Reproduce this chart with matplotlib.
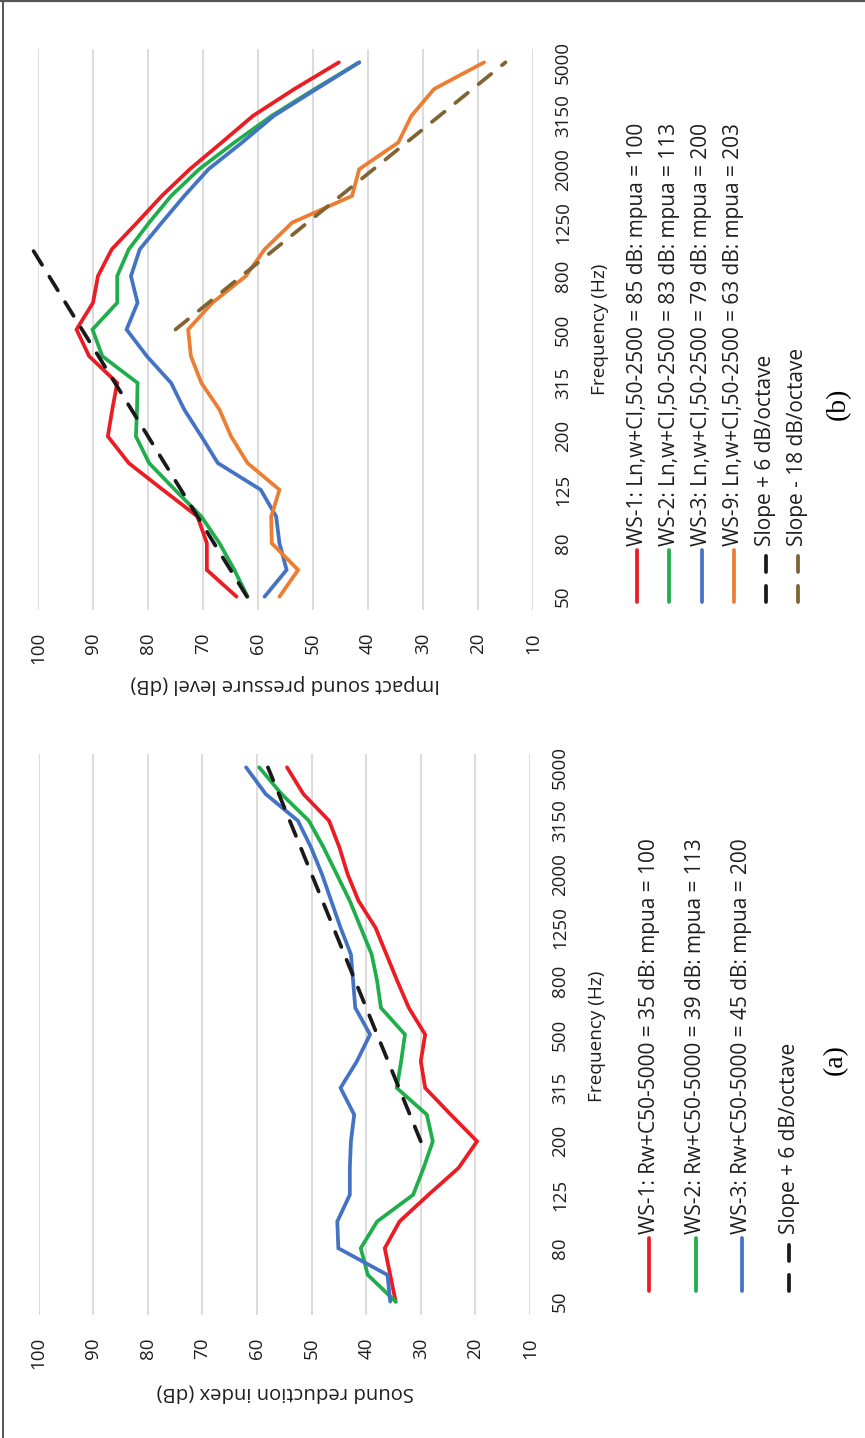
import matplotlib
matplotlib.use("Agg")
import matplotlib.pyplot as plt
from matplotlib.lines import Line2D

# ------------------------------------------------------------------
# data (1/3 octave bands, values in dB)
# ------------------------------------------------------------------
freqs = ["50", "63", "80", "100", "125", "160", "200", "250", "315", "400", "500",
         "630", "800", "1000", "1250", "1600", "2000", "2500", "3150", "4000", "5000"]

# (a) sound reduction index
a_ws1 = [34.6, 35.6, 36.6, 33.9, 28.6, 23.1, 19.7, 24.5, 29.2, 30.0, 29.2,
         32.2, 34.3, 36.3, 38.3, 41.4, 43.4, 44.9, 46.8, 51.5, 54.5]
a_ws2 = [34.6, 39.7, 41.0, 38.0, 31.4, 29.5, 27.8, 28.9, 34.4, 33.6, 32.9,
         37.3, 38.0, 39.0, 41.0, 43.0, 45.4, 47.8, 50.5, 55.5, 59.6]
a_ws3 = [35.6, 36.1, 45.1, 45.3, 43.0, 43.0, 42.8, 42.2, 44.7, 41.7, 39.3,
         42.0, 42.4, 42.8, 44.7, 46.4, 48.1, 50.1, 52.5, 58.4, 62.0]
a_slope_freqs = freqs[6:]
a_slope = [30, 32, 34, 36, 38, 40, 42, 44, 46, 48, 50, 52, 54, 56, 58]

# (b) impact sound pressure level
b_ws1 = [63.9, 69.3, 69.3, 71.0, 77.3, 83.5, 87.3, 86.5, 85.6, 90.7, 93.0,
         90.0, 89.1, 86.6, 82.0, 77.5, 72.4, 66.6, 60.9, 53.4, 45.3]
b_ws2 = [61.9, 64.3, 67.0, 70.3, 75.1, 79.8, 82.2, 82.0, 81.9, 88.3, 90.1,
         85.6, 85.6, 83.5, 79.8, 75.8, 70.7, 64.3, 57.5, 49.7, 41.6]
b_ws3 = [58.8, 54.8, 56.1, 56.7, 59.5, 67.3, 70.3, 73.4, 75.8, 80.2, 83.9,
         81.9, 83.1, 81.5, 77.5, 73.4, 69.0, 62.9, 57.1, 49.4, 41.6]
b_ws9 = [56.1, 52.7, 57.5, 57.6, 56.1, 61.9, 64.9, 67.0, 70.3, 72.2, 72.7,
         68.3, 62.2, 58.8, 53.8, 42.9, 41.6, 34.5, 32.1, 28.0, 18.9]
b_up_freqs = freqs[:14]
b_up = [62, 65, 68, 71, 74, 77, 80, 83, 86, 89, 92, 95, 98, 101]
b_down_freqs = freqs[10:]
b_down = [75, 69, 63, 57, 51, 45, 39, 33, 27, 21, 15]

a_labels = ["WS-1: Rw+C50-5000 = 35 dB: mpua = 100",
            "WS-2: Rw+C50-5000 = 39 dB: mpua = 113",
            "WS-3: Rw+C50-5000 = 45 dB: mpua = 200",
            "Slope + 6 dB/octave"]
b_labels = ["WS-1: Ln,w+CI,50-2500 = 85 dB: mpua = 100",
            "WS-2: Ln,w+CI,50-2500 = 83 dB: mpua = 113",
            "WS-3: Ln,w+CI,50-2500 = 79 dB: mpua = 200",
            "WS-9: Ln,w+CI,50-2500 = 63 dB: mpua = 203",
            "Slope + 6 dB/octave",
            "Slope - 18 dB/octave"]

# ------------------------------------------------------------------
# style
# ------------------------------------------------------------------
RED, GREEN, BLUE, ORANGE = "#EC1C24", "#1FAE4B", "#4472C4", "#ED7D31"
BLACK, OLIVE = "#1A1A1A", "#7F6532"
LW = 2.7
DASH = (0, (4.3, 3.7))
FS_TICK = 13.5
FS_LEG = 15
FS_TITLE = 14.6
FS_FREQ = 13.7
TXT = "#1E1E1E"

plt.rcParams["font.family"] = ["Open Sans", "DejaVu Sans"]

W, H = 865, 1438
fig = plt.figure(figsize=(W / 100, H / 100), dpi=100)


def fx(x):
    return x / W


def fy(y):
    return 1 - y / H


def make_axes(x0, y0, x1, y1):
    # page is turned: value axis runs right->left, frequency bottom->top
    ax = fig.add_axes([fx(x0), fy(y1), fx(x1) - fx(x0), fy(y0) - fy(y1)])
    ax.set_xlim(100, 10)
    ax.set_ylim(-0.5, len(freqs) - 0.5)
    ax.set_xticks(range(10, 101, 10))
    ax.set_xticklabels([str(v) for v in range(10, 101, 10)], rotation=90,
                       fontsize=FS_TICK, color=TXT)
    ax.yaxis.tick_right()
    ax.set_yticks(range(0, len(freqs), 2))
    ax.set_yticklabels(freqs[::2], rotation=90, va="center", fontsize=FS_TICK, color=TXT)
    ax.tick_params(axis="x", length=0, pad=16)
    ax.tick_params(axis="y", length=0, pad=15)
    ax.grid(axis="x", color="#D9D9D9", lw=1.3, zorder=0)
    for s in ax.spines.values():
        s.set_visible(False)
    return ax


def draw(ax, xs_lab, vals, color, dashed=False):
    idx = [freqs.index(f) for f in xs_lab]
    if dashed:
        ax.plot(vals, idx, color=color, lw=LW, linestyle=DASH,
                dash_capstyle="round", clip_on=False, zorder=3)
    else:
        ax.plot(vals, idx, color=color, lw=LW, solid_capstyle="round",
                solid_joinstyle="miter", zorder=3)


def legend(xs, y_top, y_bot, labels, colors, dashed):
    for x, lab, c, d in zip(xs, labels, colors, dashed):
        ln = Line2D([fx(x), fx(x)], [fy(y_bot), fy(y_top)], transform=fig.transFigure,
                    color=c, lw=LW, linestyle=DASH if d else "-",
                    dash_capstyle="round", solid_capstyle="round")
        fig.add_artist(ln)
        fig.text(fx(x), fy(y_top - 4), lab, rotation=90, ha="center", va="bottom",
                 fontsize=FS_LEG, color=TXT)


# (b) upper half
ax_b = make_axes(38, 49, 533, 610)
draw(ax_b, freqs, b_ws1, RED)
draw(ax_b, freqs, b_ws2, GREEN)
draw(ax_b, freqs, b_ws3, BLUE)
draw(ax_b, freqs, b_ws9, ORANGE)
draw(ax_b, b_up_freqs, b_up, BLACK, dashed=True)
draw(ax_b, b_down_freqs, b_down, OLIVE, dashed=True)

# (a) lower half
ax_a = make_axes(38.6, 754, 530, 1315)
draw(ax_a, freqs, a_ws1, RED)
draw(ax_a, freqs, a_ws2, GREEN)
draw(ax_a, freqs, a_ws3, BLUE)
draw(ax_a, a_slope_freqs, a_slope, BLACK, dashed=True)

# axis titles
fig.text(fx(285), fy(684), "Impact sound pressure level (dB)", rotation=180,
         ha="center", va="center", fontsize=FS_TITLE, color=TXT)
fig.text(fx(285), fy(1393), "Sound reduction index (dB)", rotation=180,
         ha="center", va="center", fontsize=FS_TITLE, color=TXT)
fig.text(fx(600), fy(329), "Frequency (Hz)", rotation=90,
         ha="center", va="center", fontsize=FS_FREQ, color=TXT)
fig.text(fx(597), fy(1036), "Frequency (Hz)", rotation=90,
         ha="center", va="center", fontsize=FS_FREQ, color=TXT)

# legends
legend([637, 669, 702, 734, 766, 798], 550, 602, b_labels,
       [RED, GREEN, BLUE, ORANGE, BLACK, OLIVE], [False] * 4 + [True, True])
legend([649, 696, 742, 789], 1238, 1291, a_labels,
       [RED, GREEN, BLUE, BLACK], [False] * 3 + [True])

# panel tags
fig.text(fx(838), fy(404), "(b)", rotation=90, ha="center", va="center",
         fontsize=20, family=["Liberation Serif", "DejaVu Serif"], color="black")
fig.text(fx(835), fy(1060), "(a)", rotation=90, ha="center", va="center",
         fontsize=20, family=["Liberation Serif", "DejaVu Serif"], color="black")

# page frame (top and left edges)
fig.add_artist(Line2D([0, 1], [fy(1), fy(1)], transform=fig.transFigure,
                      color="#555555", lw=1.6))
fig.add_artist(Line2D([fx(3.5), fx(3.5)], [0, 1], transform=fig.transFigure,
                      color="#555555", lw=1.4))

fig.savefig("out.png", dpi=100)
